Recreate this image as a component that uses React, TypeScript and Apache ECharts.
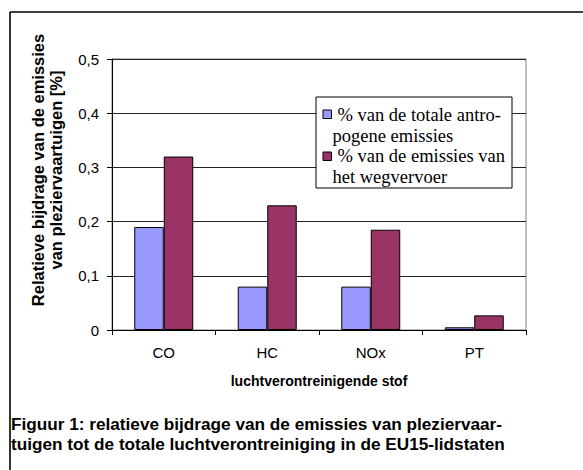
import React, { useEffect, useRef } from "react";
import * as echarts from "echarts";

const categories = ["CO", "HC", "NOx", "PT"];
const antropogeen = [0.19, 0.08, 0.08, 0.005];
const wegvervoer = [0.32, 0.23, 0.185, 0.027];
const seriesNames = [
  "% van de totale antropogene emissies",
  "% van de emissies van het wegvervoer",
];
const legendLines1 = ["% van de totale antro-", "pogene emissies"];
const legendLines2 = ["% van de emissies van", "het wegvervoer"];
const yTitle = ["Relatieve bijdrage van de emissies", "van pleziervaartuigen [%]"];
const xTitle = "luchtverontreinigende stof";
const caption = [
  "Figuur 1: relatieve bijdrage van de emissies van pleziervaar-",
  "tuigen tot de totale luchtverontreiniging in de EU15-lidstaten",
];
const colors = ["#9999FF", "#993366"];

export default function App() {
  const ref = useRef<HTMLDivElement>(null);
  useEffect(() => {
    if (!ref.current) return;
    const chart = echarts.init(ref.current, null, { renderer: "svg" });
    const sans = "Liberation Sans, Arial, sans-serif";
    const serif = "Liberation Serif, Times New Roman, serif";
    chart.setOption({
      animation: false,
      backgroundColor: "#fff",
      grid: {
        left: 112,
        right: 57,
        top: 59,
        bottom: 140,
        show: true,
        borderColor: "#808080",
        borderWidth: 1,
        backgroundColor: "#fff",
      },
      xAxis: {
        type: "category",
        data: categories,
        name: xTitle,
        nameLocation: "middle",
        nameGap: 44,
        nameTextStyle: { fontFamily: sans, fontSize: 14, fontWeight: "bold", color: "#000" },
        axisLine: { lineStyle: { color: "#000", width: 1 } },
        axisTick: { show: true, length: 5, lineStyle: { color: "#000" } },
        axisLabel: { fontFamily: sans, fontSize: 15, color: "#000", margin: 15 },
      },
      yAxis: {
        type: "value",
        min: 0,
        max: 0.5,
        interval: 0.1,
        axisLine: { show: true, lineStyle: { color: "#000", width: 1 } },
        axisTick: { show: true, length: 5, lineStyle: { color: "#000" } },
        splitLine: { show: true, lineStyle: { color: "#222", width: 1 } },
        axisLabel: {
          fontFamily: sans,
          fontSize: 15,
          color: "#000",
          margin: 13,
          formatter: (v: number) => (Math.round(v * 10) / 10).toString().replace(".", ","),
        },
      },
      series: [
        {
          name: seriesNames[0],
          type: "bar",
          data: antropogeen,
          barGap: "0%",
          barCategoryGap: "43%",
          itemStyle: { color: colors[0], borderColor: "#000", borderWidth: 1 },
        },
        {
          name: seriesNames[1],
          type: "bar",
          data: wegvervoer,
          itemStyle: { color: colors[1], borderColor: "#000", borderWidth: 1 },
        },
      ],
      graphic: [
        { type: "line", shape: { x1: 10, y1: 12, x2: 600, y2: 12 }, style: { stroke: "#000", lineWidth: 1.6 } },
        { type: "line", shape: { x1: 10, y1: 12, x2: 10, y2: 480 }, style: { stroke: "#000", lineWidth: 1.6 } },
        {
          type: "rect",
          shape: { x: 316, y: 97, width: 196, height: 91 },
          style: { fill: "#fff", stroke: "#000", lineWidth: 1 },
          z: 10,
        },
        {
          type: "rect",
          shape: { x: 323, y: 110, width: 8.5, height: 8.5 },
          style: { fill: colors[0], stroke: "#000", lineWidth: 1 },
          z: 11,
        },
        {
          type: "rect",
          shape: { x: 323, y: 152, width: 8.5, height: 8.5 },
          style: { fill: colors[1], stroke: "#000", lineWidth: 1 },
          z: 11,
        },
        ...[
          { t: legendLines1[0], x: 337.5, y: 114.5 },
          { t: legendLines1[1], x: 332.5, y: 135.5 },
          { t: legendLines2[0], x: 337.5, y: 156 },
          { t: legendLines2[1], x: 332.5, y: 177 },
        ].map((l) => ({
          type: "text",
          x: l.x,
          y: l.y,
          z: 11,
          style: {
            text: l.t,
            font: `18.5px ${serif}`,
            fill: "#000",
            textAlign: "left",
            textVerticalAlign: "middle",
          },
        })),
        ...yTitle.map((t, i) => ({
          type: "text",
          x: 38 + i * 18,
          y: 170,
          rotation: Math.PI / 2,
          style: {
            text: t,
            font: `bold 16.5px ${sans}`,
            fill: "#000",
            textAlign: "center",
            textVerticalAlign: "middle",
          },
        })),
        ...caption.map((t, i) => ({
          type: "text",
          x: 11,
          y: 424 + i * 20,
          style: {
            text: t,
            font: `bold 17.2px ${sans}`,
            fill: "#000",
            textAlign: "left",
            textVerticalAlign: "middle",
          },
        })),
      ],
    });
    return () => chart.dispose();
  }, []);
  return (
    <div
      ref={ref}
      style={{ position: "fixed", left: 0, top: 0, width: 583, height: 470 }}
    />
  );
}
